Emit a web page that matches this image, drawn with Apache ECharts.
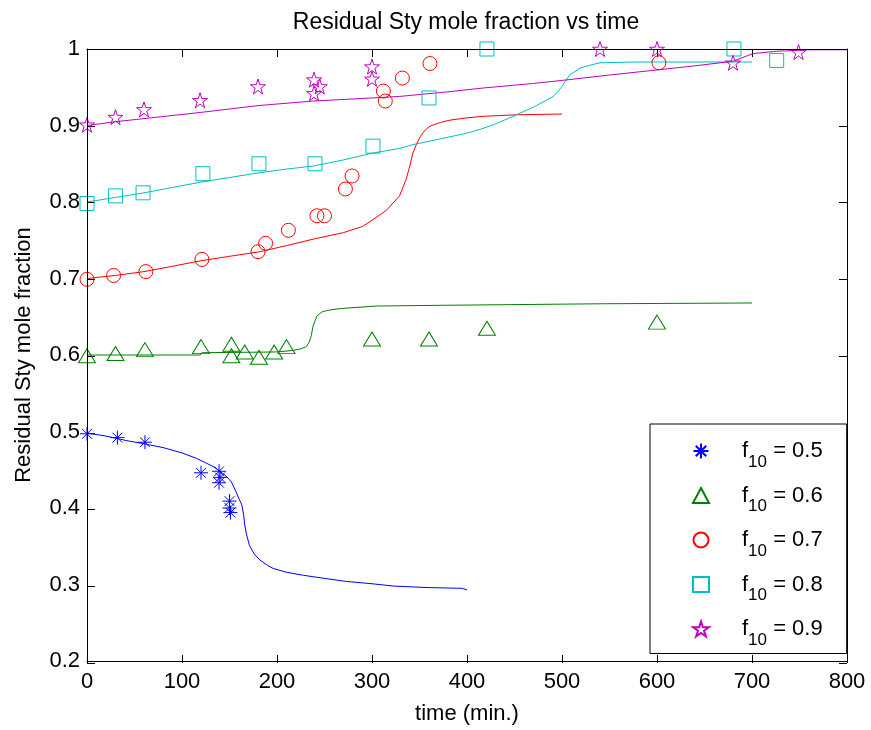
<!DOCTYPE html>
<html><head><meta charset="utf-8">
<script src="https://cdn.jsdelivr.net/npm/echarts@6/dist/echarts.min.js"></script>
<style>html,body{margin:0;padding:0;background:#fff}#c{width:871px;height:730px}</style>
</head><body><div id="c"></div>
<script>
// ---- data ----
const xTicks = [0,100,200,300,400,500,600,700,800];
const yTicks = [0.2,0.3,0.4,0.5,0.6,0.7,0.8,0.9,1];
const seriesNames = ['0.5','0.6','0.7','0.8','0.9'];

const obs05x = [0,32,61,120,139,139,140,150,150,151];
const obs05y = [0.497,0.492,0.486,0.446,0.448,0.433,0.440,0.409,0.400,0.394];
const obs06x = [0,30,61,120,152,152,166,181,197,210,300,360,421,600];
const obs06y = [0.599,0.602,0.607,0.611,0.614,0.599,0.604,0.597,0.604,0.611,0.621,0.621,0.635,0.643];
const obs07x = [0,28,62,121,180,188,212,242,250,272,279,312,314,332,361,602];
const obs07y = [0.699,0.704,0.709,0.725,0.735,0.746,0.763,0.782,0.782,0.817,0.834,0.945,0.932,0.962,0.981,0.982];
const obs08x = [0,30,59,122,181,240,301,360,421,681,726];
const obs08y = [0.798,0.808,0.812,0.837,0.850,0.850,0.873,0.936,1.0,1.0,0.985];
const obs09x = [0,30,60,119,180,239,245,239,300,300,540,600,680,749];
const obs09y = [0.901,0.911,0.921,0.933,0.951,0.960,0.951,0.942,0.977,0.961,1.0,1.0,0.982,0.996];

const fit05 = [[0,0.498],[20,0.494],[42,0.488],[60,0.484],[80,0.479],[100,0.472],[115,0.465],[125,0.459],[133,0.454],[140,0.448],[147,0.441],[152,0.434],[157,0.421],[160,0.412],[163,0.404],[165,0.390],[166,0.378],[168,0.365],[171,0.351],[176,0.340],[182,0.332],[190,0.325],[196,0.321],[210,0.316],[228,0.312],[250,0.308],[273,0.304],[300,0.301],[322,0.298],[358,0.296],[395,0.295],[400,0.293]];
const fit06 = [[0,0.600],[119,0.600],[121,0.603],[200,0.604],[217,0.606],[225,0.608],[231,0.611],[234,0.617],[236,0.625],[238,0.638],[242,0.651],[247,0.656],[252,0.658],[262,0.660],[270,0.661],[305,0.664],[376,0.665],[378,0.667],[545,0.667],[547,0.668],[700,0.668]];
const fit07 = [[0,0.700],[30,0.704],[60,0.709],[90,0.716],[119,0.723],[150,0.729],[182,0.735],[210,0.743],[240,0.752],[270,0.760],[290,0.768],[301,0.777],[315,0.789],[329,0.808],[336,0.830],[340,0.848],[343,0.864],[347,0.876],[351,0.886],[356,0.894],[361,0.899],[372,0.904],[382,0.907],[400,0.910],[417,0.912],[452,0.914],[500,0.915]];
const fit08 = [[0,0.800],[30,0.806],[60,0.812],[90,0.819],[120,0.826],[150,0.832],[180,0.838],[210,0.843],[238,0.847],[270,0.855],[301,0.864],[329,0.870],[343,0.875],[370,0.882],[400,0.890],[414,0.895],[430,0.902],[452,0.914],[470,0.924],[482,0.932],[491,0.938],[500,0.951],[508,0.966],[519,0.975],[530,0.979],[540,0.982],[579,0.983],[700,0.983]];
const fit09 = [[0,0.900],[30,0.905],[60,0.909],[119,0.917],[180,0.926],[238,0.932],[300,0.936],[329,0.938],[380,0.944],[417,0.949],[470,0.955],[508,0.960],[550,0.966],[603,0.973],[640,0.978],[680,0.984],[701,0.994],[726,0.997],[760,0.999],[800,0.999]];

// ---- styling ----
const FONT = "'Liberation Sans', Arial, sans-serif";
const colors = ['#0000ff','#008000','#ff0000','#00bfbf','#bf00bf'];
const STAR = 'path://M10,0L12.245,6.91L19.51,6.91L13.63,11.18L15.88,18.09L10,13.82L4.12,18.09L6.37,11.18L0.49,6.91L7.755,6.91Z';
const AST = 'path://M10,0L10,20M0,10L20,10M3,3L17,17M3,17L17,3';
const symbols = [AST,'triangle','circle','rect',STAR];
const symSizes = [14,[17,14],14,14,15];
const obsX = [obs05x,obs06x,obs07x,obs08x,obs09x];
const obsY = [obs05y,obs06y,obs07y,obs08y,obs09y];
const fits = [fit05,fit06,fit07,fit08,fit09];

const series = [];
fits.forEach((f,i)=>{
  series.push({type:'line', name:'fit'+i, data:f, showSymbol:false, symbol:'none',
    lineStyle:{color:colors[i], width:1}, z:2, silent:true});
});
obsX.forEach((xs,i)=>{
  series.push({type:'scatter', name:seriesNames[i], data:xs.map((x,k)=>[x,obsY[i][k]]),
    symbol:symbols[i], symbolSize:symSizes[i], z:3,
    itemStyle:{color:'rgba(0,0,0,0)', borderColor:colors[i], borderWidth:1, opacity:1}});
});

// layout of the main plot box
const G = {left:87, top:49, width:760, height:614};
const TL = 8; // inward tick length

const xr = {min:xTicks[0], max:xTicks[xTicks.length-1], interval:100};
const yr = {min:yTicks[0], max:yTicks[yTicks.length-1], interval:0.1};

function frameAxis(extra){
  return Object.assign({
    type:'value',
    axisLine:{show:true, onZero:false, lineStyle:{color:'#000', width:1}},
    axisTick:{show:false}, splitLine:{show:false}, z:10
  }, extra);
}
// thin helper grids whose split lines act as the inward tick marks
const grids = [
  {left:G.left, top:G.top, width:G.width, height:G.height},
  {left:G.left, top:G.top+G.height-TL, width:G.width, height:TL},   // bottom ticks
  {left:G.left, top:G.top, width:G.width, height:TL},               // top ticks
  {left:G.left, top:G.top, width:TL, height:G.height},              // left ticks
  {left:G.left+G.width-TL, top:G.top, width:TL, height:G.height}    // right ticks
];
function hidden(extra){
  return Object.assign({type:'value', min:0, max:1, show:true,
    axisLine:{show:false}, axisTick:{show:false}, axisLabel:{show:false}, splitLine:{show:false}}, extra);
}
function tickAx(extra){
  return Object.assign({type:'value', axisLine:{show:false}, axisTick:{show:false}, axisLabel:{show:false},
    splitLine:{show:true, lineStyle:{color:'#000', width:1}}}, extra);
}

const xAxes = [
  frameAxis(Object.assign({gridIndex:0, position:'bottom',
    name:'time (min.)', nameLocation:'middle', nameGap:42,
    nameTextStyle:{fontFamily:FONT, fontSize:22, color:'#000'},
    axisLabel:{margin:10, fontFamily:FONT, fontSize:22, color:'#000'}}, xr)),
  frameAxis(Object.assign({gridIndex:0, position:'top', axisLabel:{show:false}}, xr)),
  tickAx(Object.assign({gridIndex:1}, xr)),
  tickAx(Object.assign({gridIndex:2}, xr)),
  hidden({gridIndex:3}),
  hidden({gridIndex:4})
];
const yAxes = [
  frameAxis(Object.assign({gridIndex:0, position:'left',
    name:'Residual Sty mole fraction', nameLocation:'middle', nameGap:52, nameRotate:90,
    nameTextStyle:{fontFamily:FONT, fontSize:22, color:'#000'},
    axisLabel:{margin:7, fontFamily:FONT, fontSize:22, color:'#000'}}, yr)),
  frameAxis(Object.assign({gridIndex:0, position:'right', axisLabel:{show:false}}, yr)),
  hidden({gridIndex:1}),
  hidden({gridIndex:2}),
  tickAx(Object.assign({gridIndex:3}, yr)),
  tickAx(Object.assign({gridIndex:4}, yr))
];

const chart = echarts.init(document.getElementById('c'), null, {renderer:'canvas'});
chart.setOption({
  animation:false,
  backgroundColor:'#fff',
  textStyle:{fontFamily:FONT},
  title:{text:'Residual Sty mole fraction vs time', left:461, top:6, textAlign:'center',
    textStyle:{fontFamily:FONT, fontSize:23, fontWeight:'normal', color:'#000'}},
  grid:grids,
  xAxis:xAxes,
  yAxis:yAxes,
  legend:{
    data:seriesNames, orient:'vertical', left:650, top:424,
    padding:[16,24,5,42], itemGap:14, itemWidth:16, itemHeight:15,
    backgroundColor:'#fff', borderColor:'#000', borderWidth:1, borderRadius:0,
    selectedMode:false, z:20,
    formatter:n=>'{f|f}{s|10}{e| = '+n+'}',
    textStyle:{fontFamily:FONT, color:'#000',
      rich:{
        f:{fontFamily:FONT, fontSize:22, verticalAlign:'middle', padding:[0,0,0,28], color:'#000'},
        s:{fontFamily:FONT, fontSize:17, verticalAlign:'middle', padding:[22,0,0,0], color:'#000'},
        e:{fontFamily:FONT, fontSize:22, verticalAlign:'middle', color:'#000'}
      }}
  },
  series:series
});
</script></body></html>
